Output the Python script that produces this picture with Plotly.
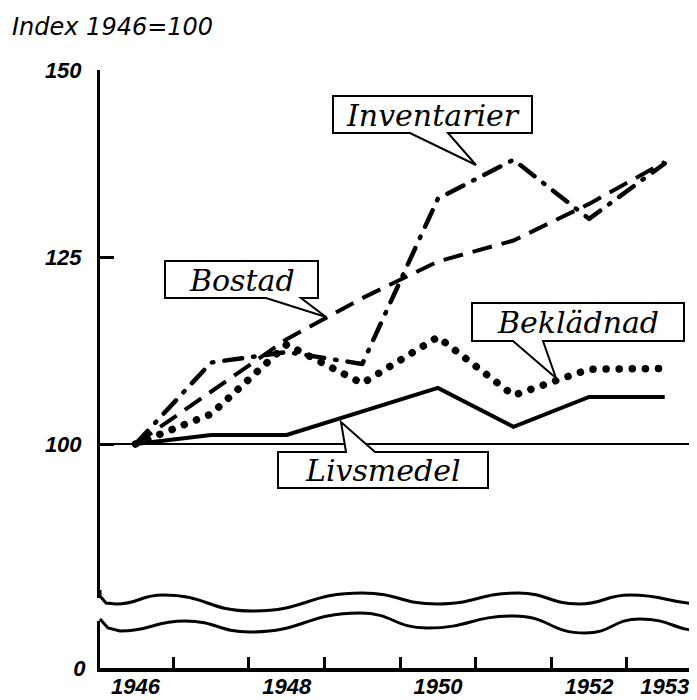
import plotly.graph_objects as go

# ---------------- data ----------------
years = [1946, 1947, 1948, 1949, 1950, 1951, 1952, 1953]
livsmedel = [100, 101.2, 101.2, 104.4, 107.5, 102.3, 106.3, 106.3]
bostad = [100, 107.0, 114.0, 119.5, 124.4, 127.2, 132.1, 137.7]
bekladnad = [100, 104.0, 113.3, 108.1, 114.3, 106.5, 110.0, 110.1]
inventarier = [100, 110.9, 112.3, 110.7, 132.8, 138.0, 130.1, 137.5]

series_names = ["Livsmedel", "Bostad", "Beklädnad", "Inventarier"]
label_years = [1946, 1948, 1950, 1952, 1953]
y_ticks_upper = [100, 125, 150]
y_ticks_lower = [0]
title_text = "Index 1946=100"

# ---------------- geometry (page pixels) ----------------
PAGE_W, PAGE_H = 697, 700
OFF = 8                       # default body margin of the html page
AX_L, AX_R = 100, 697         # plot area left/right in page px
AX_T, AX_B = 60, 668          # plot area top/bottom in page px

W, H = PAGE_W - OFF, PAGE_H - OFF
ML, MR = AX_L - OFF, PAGE_W - AX_R
MT, MB = AX_T - OFF, PAGE_H - AX_B


def px(x):
    return (x - AX_L) / (AX_R - AX_L)


def py(y):
    return (AX_B - y) / (AX_B - AX_T)


def poly(points):
    s = "M {:.5f},{:.5f}".format(px(points[0][0]), py(points[0][1]))
    for (x, y) in points[1:]:
        s += " L {:.5f},{:.5f}".format(px(x), py(y))
    return s + " Z"


def wave(start_pts, extrema):
    x0, y0 = start_pts[0]
    s = "M {:.5f},{:.5f}".format(px(x0), py(y0))
    for (x, y) in start_pts[1:]:
        s += " L {:.5f},{:.5f}".format(px(x), py(y))
    cx, cy = start_pts[-1]
    for (x, y) in extrema:
        dx = (x - cx) / 2.0
        s += " C {:.5f},{:.5f} {:.5f},{:.5f} {:.5f},{:.5f}".format(
            px(cx + dx), py(cy), px(x - dx), py(y), px(x), py(y))
        cx, cy = x, y
    return s


BLACK = "black"
num_font = dict(family="Liberation Sans", size=22, color=BLACK,
                style="italic", weight="bold")
lab_font = dict(family="DejaVu Serif", size=30, color=BLACK, style="italic")

fig = go.Figure()

styles = {
    "Livsmedel": dict(width=4, dash="solid"),
    "Bostad": dict(width=4, dash="20px,10px"),
    "Beklädnad": dict(width=7.5, dash="0.1px,13px"),
    "Inventarier": dict(width=4.5, dash="18px,11px,1.5px,11px"),
}
round_caps = ["Beklädnad", "Inventarier"]
values = {"Livsmedel": livsmedel, "Bostad": bostad,
          "Beklädnad": bekladnad, "Inventarier": inventarier}

for name in series_names:
    st = styles[name]
    fig.add_trace(go.Scatter(
        x=years, y=values[name], mode="lines", name=name,
        line=dict(color=BLACK, width=st["width"], dash=st["dash"]),
        showlegend=False, hoverinfo="skip", xaxis="x", yaxis="y"))

# anchor trace for the lower (broken) part of the axis
fig.add_trace(go.Scatter(x=[years[0]], y=[0], mode="markers",
                         marker=dict(opacity=0), showlegend=False,
                         hoverinfo="skip", xaxis="x", yaxis="y2"))

upper_bottom_px, upper_top_px, y100_px = 598, 70, 444
scale = (y100_px - upper_top_px) / (150 - 100)
upper_min = 150 - (upper_bottom_px - upper_top_px) / scale
lower_top_px = 621
lower_max = (AX_B - lower_top_px) / scale

x1946_px, px_per_year = 135.5, 75.6
x_left = 1946 - (x1946_px - AX_L) / px_per_year
x_right = 1946 + (AX_R - x1946_px) / px_per_year

fig.update_layout(
    width=W, height=H,
    margin=dict(l=ML, r=MR, t=MT, b=MB, autoexpand=False),
    paper_bgcolor="white", plot_bgcolor="white",
    xaxis=dict(range=[x_left, x_right], domain=[0, 1], anchor="y2",
               showline=True, linewidth=3.5, linecolor=BLACK,
               tickmode="array", tickvals=label_years,
               ticktext=[str(v) for v in label_years],
               ticks="", tickfont=dict(num_font, size=22),
               ticklabelstandoff=-4,
               minor=dict(tickvals=[v + 0.5 for v in years[:-1]],
                          ticks="inside", ticklen=11, tickwidth=2.5,
                          tickcolor=BLACK, showgrid=False),
               showgrid=False, zeroline=False, fixedrange=True),
    yaxis=dict(domain=[py(upper_bottom_px), py(upper_top_px)],
               range=[upper_min, 150], anchor="x",
               showline=True, linewidth=3, linecolor=BLACK,
               tickmode="array", tickvals=y_ticks_upper,
               ticks="inside", ticklen=14, tickwidth=2.5, tickcolor=BLACK,
               tickfont=num_font, ticklabelstandoff=11,
               showgrid=False, zeroline=False, fixedrange=True),
    yaxis2=dict(domain=[0, py(lower_top_px)], range=[0, lower_max],
                anchor="x", showline=True, linewidth=3, linecolor=BLACK,
                tickmode="array", tickvals=y_ticks_lower,
                ticks="", tickfont=num_font, ticklabelstandoff=7,
                showgrid=False, zeroline=False, fixedrange=True),
)

shapes = []
# reference line at 100
shapes.append(dict(type="line", xref="paper", yref="y", x0=0, x1=1,
                   y0=100, y1=100, line=dict(color=BLACK, width=2),
                   layer="below"))
# broken-axis waves
shapes.append(dict(type="path", xref="paper", yref="paper", layer="above",
                   path=wave([(100, 590), (100, 596), (106, 603), (116, 604)],
                             [(163, 595), (252, 611), (362, 593), (437, 604),
                              (518, 593), (579, 604), (630, 595), (705, 604)]),
                   line=dict(color=BLACK, width=3)))
shapes.append(dict(type="path", xref="paper", yref="paper", layer="above",
                   path=wave([(100, 619), (108, 628), (120, 631)],
                             [(185, 621), (250, 632), (360, 613), (427, 628),
                              (514, 616), (585, 633), (640, 619), (705, 631)]),
                   line=dict(color=BLACK, width=3)))

# callout boxes (label, polygon in page px, text centre)
callouts = [
    ("Inventarier", [(333, 96), (532, 96), (532, 133), (448, 133), (476, 165),
                     (410, 133), (333, 133)], (433, 115)),
    ("Bostad", [(165, 261), (318, 261), (318, 298), (301, 298), (326, 317),
                (266, 298), (165, 298)], (242, 280)),
    ("Beklädnad", [(472, 303), (684, 303), (684, 341), (543, 341), (556, 378),
                   (513, 341), (472, 341)], (578, 322)),
    ("Livsmedel", [(278, 452), (346, 452), (341, 422), (375, 452), (488, 452),
                   (488, 488), (278, 488)], (383, 470)),
]
annotations = []
for name, pts, (cx, cy) in callouts:
    shapes.append(dict(type="path", xref="paper", yref="paper", layer="above",
                       path=poly(pts), fillcolor="white",
                       line=dict(color=BLACK, width=2)))
    annotations.append(dict(text=name, xref="paper", yref="paper",
                            x=px(cx), y=py(cy), showarrow=False,
                            xanchor="center", yanchor="middle", font=lab_font))

annotations.append(dict(text=title_text, xref="paper", yref="paper",
                        x=px(10), y=py(27), xanchor="left", yanchor="middle",
                        showarrow=False,
                        font=dict(family="DejaVu Sans", size=24, color=BLACK,
                                  style="italic")))

fig.update_layout(shapes=shapes, annotations=annotations)

idx = [series_names.index(n) for n in round_caps]
post = """
var gd = document.getElementById('{plot_id}');
function roundCaps() {
  var tr = gd.querySelectorAll('.scatterlayer .trace');
  %s.forEach(function(i) {
    if (tr[i]) { tr[i].querySelectorAll('path.js-line').forEach(function(p) {
      p.style.strokeLinecap = 'round'; p.style.strokeLinejoin = 'round'; }); }
  });
}
roundCaps();
gd.on('plotly_afterplot', roundCaps);
""" % str(idx)

fig.write_html("out.html", post_script=post)
